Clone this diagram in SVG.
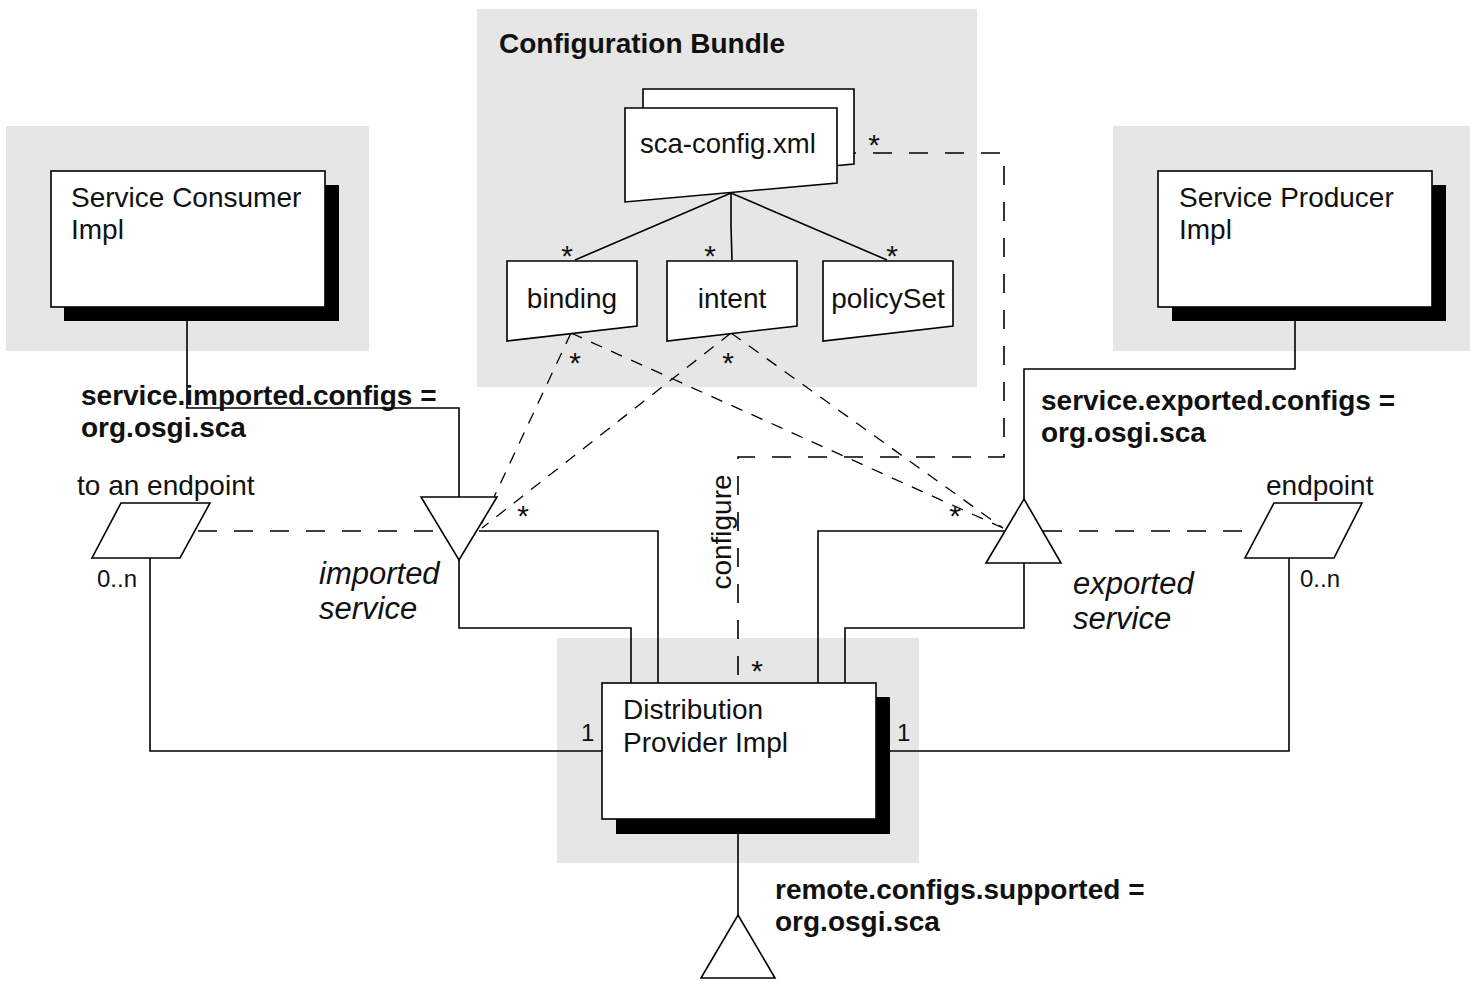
<svg xmlns="http://www.w3.org/2000/svg" width="1470" height="981" viewBox="0 0 1470 981">
  <style>
    .panel { fill: #e6e6e6; stroke: none; }
    .box { fill: #ffffff; stroke: #000; stroke-width: 1.6; }
    .shadow { fill: #000; stroke: none; }
    .line { fill: none; stroke: #000; stroke-width: 1.6; }
    .dash { fill: none; stroke: #000; stroke-width: 1.6; stroke-dasharray: 19 17; }
    .dep { fill: none; stroke: #000; stroke-width: 1.3; stroke-dasharray: 12 10; }
    text { font-family: "Liberation Sans", Arial, sans-serif; fill: #111; }
    .lbl { font-size: 28px; }
    .doc { font-size: 27.5px; }
    .bold { font-size: 28px; font-weight: bold; }
    .ital { font-size: 31px; font-style: italic; }
    .mult { font-size: 24px; }
    .star { font-size: 30px; text-anchor: middle; }
  </style>

  <!-- background panels -->
  <rect class="panel" x="477" y="9" width="500" height="378"/>
  <rect class="panel" x="6" y="126" width="363" height="225"/>
  <rect class="panel" x="1113" y="126" width="357" height="225"/>
  <rect class="panel" x="557" y="638" width="362" height="225"/>

  <!-- connectors -->
  <g id="connectors">
    <!-- consumer to imported service -->
    <polyline class="line" points="187,321 187,408 459,408 459,497"/>
    <!-- producer to exported service -->
    <polyline class="line" points="1295,321 1295,369 1024,369 1024,499"/>
    <!-- imported service to distribution provider -->
    <polyline class="line" points="479,531 658,531 658,683"/>
    <polyline class="line" points="459,560 459,628 631,628 631,683"/>
    <!-- exported service to distribution provider -->
    <polyline class="line" points="1005,531 818,531 818,683"/>
    <polyline class="line" points="1024,563 1024,628 845,628 845,683"/>
    <!-- endpoints to distribution provider -->
    <polyline class="line" points="150,558 150,751 602,751"/>
    <polyline class="line" points="1289,558 1289,751 890,751"/>
    <!-- distribution provider to remote config triangle -->
    <line class="line" x1="738" y1="834" x2="738" y2="915"/>
    <!-- sca-config composition -->
    <polyline class="line" points="731,193 731,226 732,260"/>
    <line class="line" x1="731" y1="193" x2="575" y2="260"/>
    <line class="line" x1="731" y1="193" x2="887" y2="260"/>
    <!-- service to endpoint associations -->
    <line class="dash" x1="198" y1="531" x2="441" y2="531"/>
    <line class="dash" x1="1043" y1="531" x2="1259" y2="531"/>
    <!-- configure dependency -->
    <polyline class="dash" points="837,153 1004,153 1004,457 738,457 738,684"/>
    <!-- binding / intent dependencies -->
    <line class="dep" x1="571" y1="333" x2="479" y2="529"/>
    <line class="dep" x1="731" y1="333" x2="482" y2="528"/>
    <line class="dep" x1="571" y1="333" x2="1003" y2="528"/>
    <line class="dep" x1="731" y1="333" x2="1003" y2="528"/>
  </g>

  <!-- configuration bundle -->
  <g id="config-bundle">
    <text class="bold" x="499" y="53">Configuration Bundle</text>
  </g>

  <g id="sca-config">
    <path class="box" d="M643,89 H854 V164 L643,183 Z"/>
    <path class="box" d="M625,108 H837 V183 L625,202 Z"/>
    <text class="doc" x="640" y="153">sca-config.xml</text>
  </g>

  <g id="binding">
    <path class="box" d="M507,261 H637 V326 L507,341 Z"/>
    <text class="lbl" x="572" y="308" text-anchor="middle">binding</text>
  </g>

  <g id="intent">
    <path class="box" d="M667,261 H797 V326 L667,341 Z"/>
    <text class="lbl" x="732" y="308" text-anchor="middle">intent</text>
  </g>

  <g id="policySet">
    <path class="box" d="M823,261 H953 V326 L823,341 Z"/>
    <text class="lbl" x="888" y="308" text-anchor="middle">policySet</text>
  </g>

  <!-- service consumer -->
  <g id="service-consumer">
    <rect class="shadow" x="64" y="185" width="275" height="136"/>
    <rect class="box" x="51" y="171" width="274" height="136"/>
    <text class="lbl" x="71" y="207">Service Consumer</text>
    <text class="lbl" x="71" y="239">Impl</text>
  </g>

  <!-- service producer -->
  <g id="service-producer">
    <rect class="shadow" x="1172" y="185" width="274" height="136"/>
    <rect class="box" x="1158" y="171" width="274" height="136"/>
    <text class="lbl" x="1179" y="207">Service Producer</text>
    <text class="lbl" x="1179" y="239">Impl</text>
  </g>

  <!-- distribution provider -->
  <g id="distribution-provider">
    <rect class="shadow" x="616" y="697" width="274" height="137"/>
    <rect class="box" x="602" y="683" width="274" height="136"/>
    <text class="lbl" x="623" y="719">Distribution</text>
    <text class="lbl" x="623" y="752">Provider Impl</text>
  </g>

  <!-- imported service -->
  <g id="imported-service">
    <polygon class="box" points="421,497 497,497 459,560"/>
    <text class="ital" x="319" y="584">imported</text>
    <text class="ital" x="319" y="619">service</text>
  </g>

  <!-- exported service -->
  <g id="exported-service">
    <polygon class="box" points="1024,499 1061,563 986,563"/>
    <text class="ital" x="1073" y="594">exported</text>
    <text class="ital" x="1073" y="629">service</text>
  </g>

  <!-- endpoints -->
  <g id="import-endpoint">
    <polygon class="box" points="121,503 210,503 180,558 92,558"/>
    <text class="lbl" x="77" y="495">to an endpoint</text>
  </g>

  <g id="export-endpoint">
    <polygon class="box" points="1274,503 1362,503 1334,558 1245,558"/>
    <text class="lbl" x="1266" y="495">endpoint</text>
  </g>

  <!-- remote configs supported -->
  <g id="remote-configs">
    <polygon class="box" points="738,915 775,978 701,978"/>
  </g>

  <!-- property labels -->
  <g id="labels">
    <text class="bold" x="81" y="405">service.imported.configs =</text>
    <text class="bold" x="81" y="437">org.osgi.sca</text>
    <text class="bold" x="1041" y="410">service.exported.configs =</text>
    <text class="bold" x="1041" y="442">org.osgi.sca</text>
    <text class="bold" x="775" y="899">remote.configs.supported =</text>
    <text class="bold" x="775" y="931">org.osgi.sca</text>
    <text class="lbl" transform="translate(731,532) rotate(-90)" text-anchor="middle">configure</text>
  </g>

  <!-- multiplicities -->
  <g id="multiplicities">
    <text class="mult" x="97" y="587">0..n</text>
    <text class="mult" x="1300" y="587">0..n</text>
    <text class="mult" x="581" y="741">1</text>
    <text class="mult" x="897" y="741">1</text>
    <text class="star" x="874" y="155">*</text>
    <text class="star" x="567" y="266">*</text>
    <text class="star" x="710" y="266">*</text>
    <text class="star" x="892" y="266">*</text>
    <text class="star" x="575" y="373">*</text>
    <text class="star" x="728" y="373">*</text>
    <text class="star" x="523" y="526">*</text>
    <text class="star" x="955" y="526">*</text>
    <text class="star" x="757" y="681">*</text>
  </g>
</svg>
